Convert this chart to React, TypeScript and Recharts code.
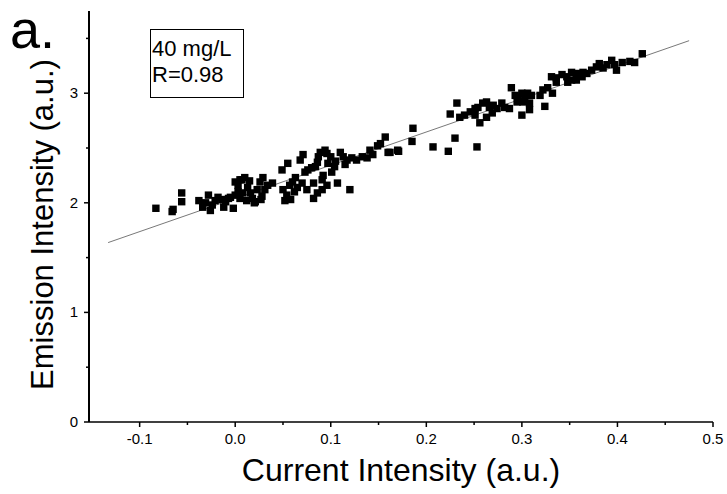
import { ReferenceLine, Scatter, ScatterChart, XAxis, YAxis } from "recharts";

// readings: current intensity (x) vs emission intensity (y), 40 mg/L
const points: [number, number][] = [
  [-0.083, 1.95], [-0.066, 1.92], [-0.065, 1.94], [-0.056, 2.09], [-0.056, 2.01],
  [-0.038, 2.02], [-0.034, 1.96], [-0.031, 2.0], [-0.028, 2.07], [-0.026, 1.93],
  [-0.024, 1.98], [-0.021, 2.02], [-0.018, 2.05], [-0.014, 2.03], [-0.012, 1.96],
  [-0.01, 2.01], [-0.007, 2.04], [-0.005, 2.05], [-0.002, 1.95], [0.0, 2.07],
  [0.0, 2.19], [0.003, 2.1], [0.003, 2.16], [0.005, 2.04], [0.005, 2.21],
  [0.007, 2.21], [0.008, 2.09], [0.01, 2.23], [0.012, 2.02], [0.013, 2.14],
  [0.015, 2.2], [0.016, 2.09], [0.018, 2.04], [0.02, 2.0], [0.021, 2.01],
  [0.023, 2.12], [0.026, 2.19], [0.027, 2.03], [0.028, 2.06], [0.029, 2.23],
  [0.031, 2.12], [0.034, 2.16], [0.039, 2.18],
  [0.049, 2.3], [0.05, 2.12], [0.052, 2.02], [0.054, 2.07], [0.055, 2.36],
  [0.057, 2.16], [0.058, 2.03], [0.06, 2.19], [0.062, 2.1], [0.063, 2.23],
  [0.065, 2.14], [0.068, 2.39], [0.07, 2.18], [0.071, 2.44], [0.073, 2.28],
  [0.075, 2.12], [0.076, 2.3], [0.08, 2.32], [0.082, 2.18], [0.082, 2.04],
  [0.084, 2.33], [0.086, 2.37], [0.086, 2.09], [0.087, 2.42], [0.089, 2.46],
  [0.091, 2.21], [0.091, 2.12], [0.092, 2.25], [0.094, 2.48], [0.096, 2.45],
  [0.096, 2.16], [0.097, 2.36], [0.1, 2.42], [0.101, 2.28], [0.104, 2.33],
  [0.105, 2.38], [0.107, 2.18], [0.12, 2.12],
  [0.11, 2.46], [0.113, 2.42], [0.115, 2.35], [0.117, 2.39], [0.122, 2.41],
  [0.127, 2.39], [0.133, 2.42], [0.138, 2.41], [0.141, 2.48], [0.144, 2.44],
  [0.149, 2.52], [0.152, 2.54], [0.157, 2.6], [0.16, 2.46], [0.162, 2.46],
  [0.17, 2.48], [0.171, 2.47],
  [0.185, 2.56], [0.186, 2.68], [0.207, 2.51], [0.223, 2.47], [0.23, 2.59],
  [0.253, 2.51],
  [0.225, 2.81], [0.232, 2.91], [0.235, 2.78], [0.24, 2.8], [0.246, 2.83],
  [0.251, 2.86], [0.251, 2.8], [0.254, 2.87], [0.256, 2.73], [0.259, 2.91],
  [0.263, 2.92], [0.263, 2.78], [0.266, 2.87], [0.269, 2.82], [0.27, 2.89],
  [0.274, 2.86], [0.279, 2.91], [0.282, 2.87], [0.287, 2.86],
  [0.289, 3.05], [0.293, 2.98], [0.295, 2.92], [0.296, 2.96], [0.3, 3.0],
  [0.3, 2.8], [0.301, 2.92], [0.303, 2.97], [0.306, 3.0], [0.308, 2.91],
  [0.308, 2.85], [0.31, 2.98], [0.319, 2.98], [0.322, 3.03], [0.324, 2.88],
  [0.327, 3.05], [0.332, 3.0],
  [0.331, 3.15], [0.336, 3.14], [0.336, 3.1], [0.342, 3.17], [0.347, 3.15],
  [0.348, 3.1], [0.352, 3.19], [0.352, 3.12], [0.357, 3.18], [0.357, 3.12],
  [0.363, 3.15], [0.364, 3.19], [0.368, 3.18], [0.373, 3.21], [0.378, 3.24],
  [0.381, 3.27], [0.385, 3.23], [0.389, 3.26], [0.394, 3.3], [0.397, 3.26],
  [0.399, 3.21], [0.405, 3.28], [0.413, 3.29], [0.418, 3.28], [0.426, 3.36],
];

// linear fit shown on the plot
const fitSlope = 3.03;
const fitIntercept = 2.04;
const fitRange = [-0.133, 0.475];

const xTicks = [-0.1, -0.05, 0, 0.05, 0.1, 0.15, 0.2, 0.25, 0.3, 0.35, 0.4, 0.45, 0.5];
const yTicks = [0, 0.5, 1, 1.5, 2, 2.5, 3, 3.5];

const font = '"Liberation Sans", Arial, sans-serif';
const data = points.map(([x, y]) => ({ x, y }));
const isMajor = (v: number, step: number) => Math.abs(v / step - Math.round(v / step)) < 1e-6;

const XTick = ({ x, y, payload }: any) => {
  const major = isMajor(payload.value, 0.1);
  return (
    <g>
      <line x1={x} x2={x} y1={y} y2={y + (major ? 5 : 3)} stroke="#000" strokeWidth={1.5} />
      {major && (
        <text x={x} y={y + 22} textAnchor="middle" style={{ fontSize: 15, fontFamily: font }} fill="#000">
          {payload.value.toFixed(1)}
        </text>
      )}
    </g>
  );
};

const YTick = ({ x, y, payload }: any) => {
  const major = isMajor(payload.value, 1);
  return (
    <g>
      <line x1={x} x2={x - (major ? 5 : 3)} y1={y} y2={y} stroke="#000" strokeWidth={1.5} />
      {major && (
        <text x={x - 11} y={y + 5} textAnchor="end" style={{ fontSize: 15, fontFamily: font }} fill="#000">
          {payload.value}
        </text>
      )}
    </g>
  );
};

const Square = ({ cx, cy }: any) => (
  <rect x={cx - 3.7} y={cy - 3.7} width={7.4} height={7.4} fill="#000" />
);

export default function App() {
  return (
    <div style={{ position: "absolute", left: 0, top: 0, width: 727, height: 494, background: "#fff", fontFamily: font }}>
      <ScatterChart width={727} height={494} margin={{ top: 11, right: 14, bottom: 0, left: 0 }}>
        <XAxis
          type="number"
          dataKey="x"
          domain={[-0.153, 0.5]}
          allowDataOverflow
          ticks={xTicks}
          interval={0}
          height={72}
          tickSize={0}
          tickMargin={0}
          tickLine={false}
          tick={<XTick />}
          axisLine={{ stroke: "#000", strokeWidth: 1.5 }}
          label={{
            content: ({ viewBox }: any) => (
              <text x={viewBox.x + viewBox.width / 2} y={viewBox.y + 59} textAnchor="middle" style={{ fontSize: 32, fontFamily: font }} fill="#000">
                Current Intensity (a.u.)
              </text>
            ),
          }}
        />
        <YAxis
          type="number"
          dataKey="y"
          domain={[0, 3.75]}
          allowDataOverflow
          ticks={yTicks}
          interval={0}
          width={89}
          tickSize={0}
          tickMargin={0}
          tickLine={false}
          tick={<YTick />}
          axisLine={{ stroke: "#000", strokeWidth: 2 }}
          label={{
            content: ({ viewBox }: any) => {
              const cy = viewBox.y + viewBox.height / 2 + 8;
              return (
                <text x={53} y={cy} transform={`rotate(-90 53 ${cy})`} textAnchor="middle" style={{ fontSize: 31, fontFamily: font }} fill="#000">
                  Emission Intensity (a.u.)
                </text>
              );
            },
          }}
        />
        <ReferenceLine
          segment={[
            { x: fitRange[0], y: fitIntercept + fitSlope * fitRange[0] },
            { x: fitRange[1], y: fitIntercept + fitSlope * fitRange[1] },
          ]}
          stroke="#555"
          strokeWidth={0.8}
        />
        <Scatter data={data} fill="#000" shape={<Square />} isAnimationActive={false} />
      </ScatterChart>
      <svg style={{ position: "absolute", left: 0, top: 0 }} width={80} height={60}>
        <text x={10} y={48} style={{ fontSize: 54, fontFamily: font }} fill="#000">a.</text>
      </svg>
      <div
        style={{
          position: "absolute",
          left: 150,
          top: 29,
          width: 94,
          height: 69,
          border: "1.5px solid #000",
          fontSize: 22,
          lineHeight: "26px",
          color: "#000",
          paddingLeft: 1,
          boxSizing: "border-box",
          paddingTop: 6,
        }}
      >
        <div>40 mg/L</div>
        <div>R=0.98</div>
      </div>
    </div>
  );
}
